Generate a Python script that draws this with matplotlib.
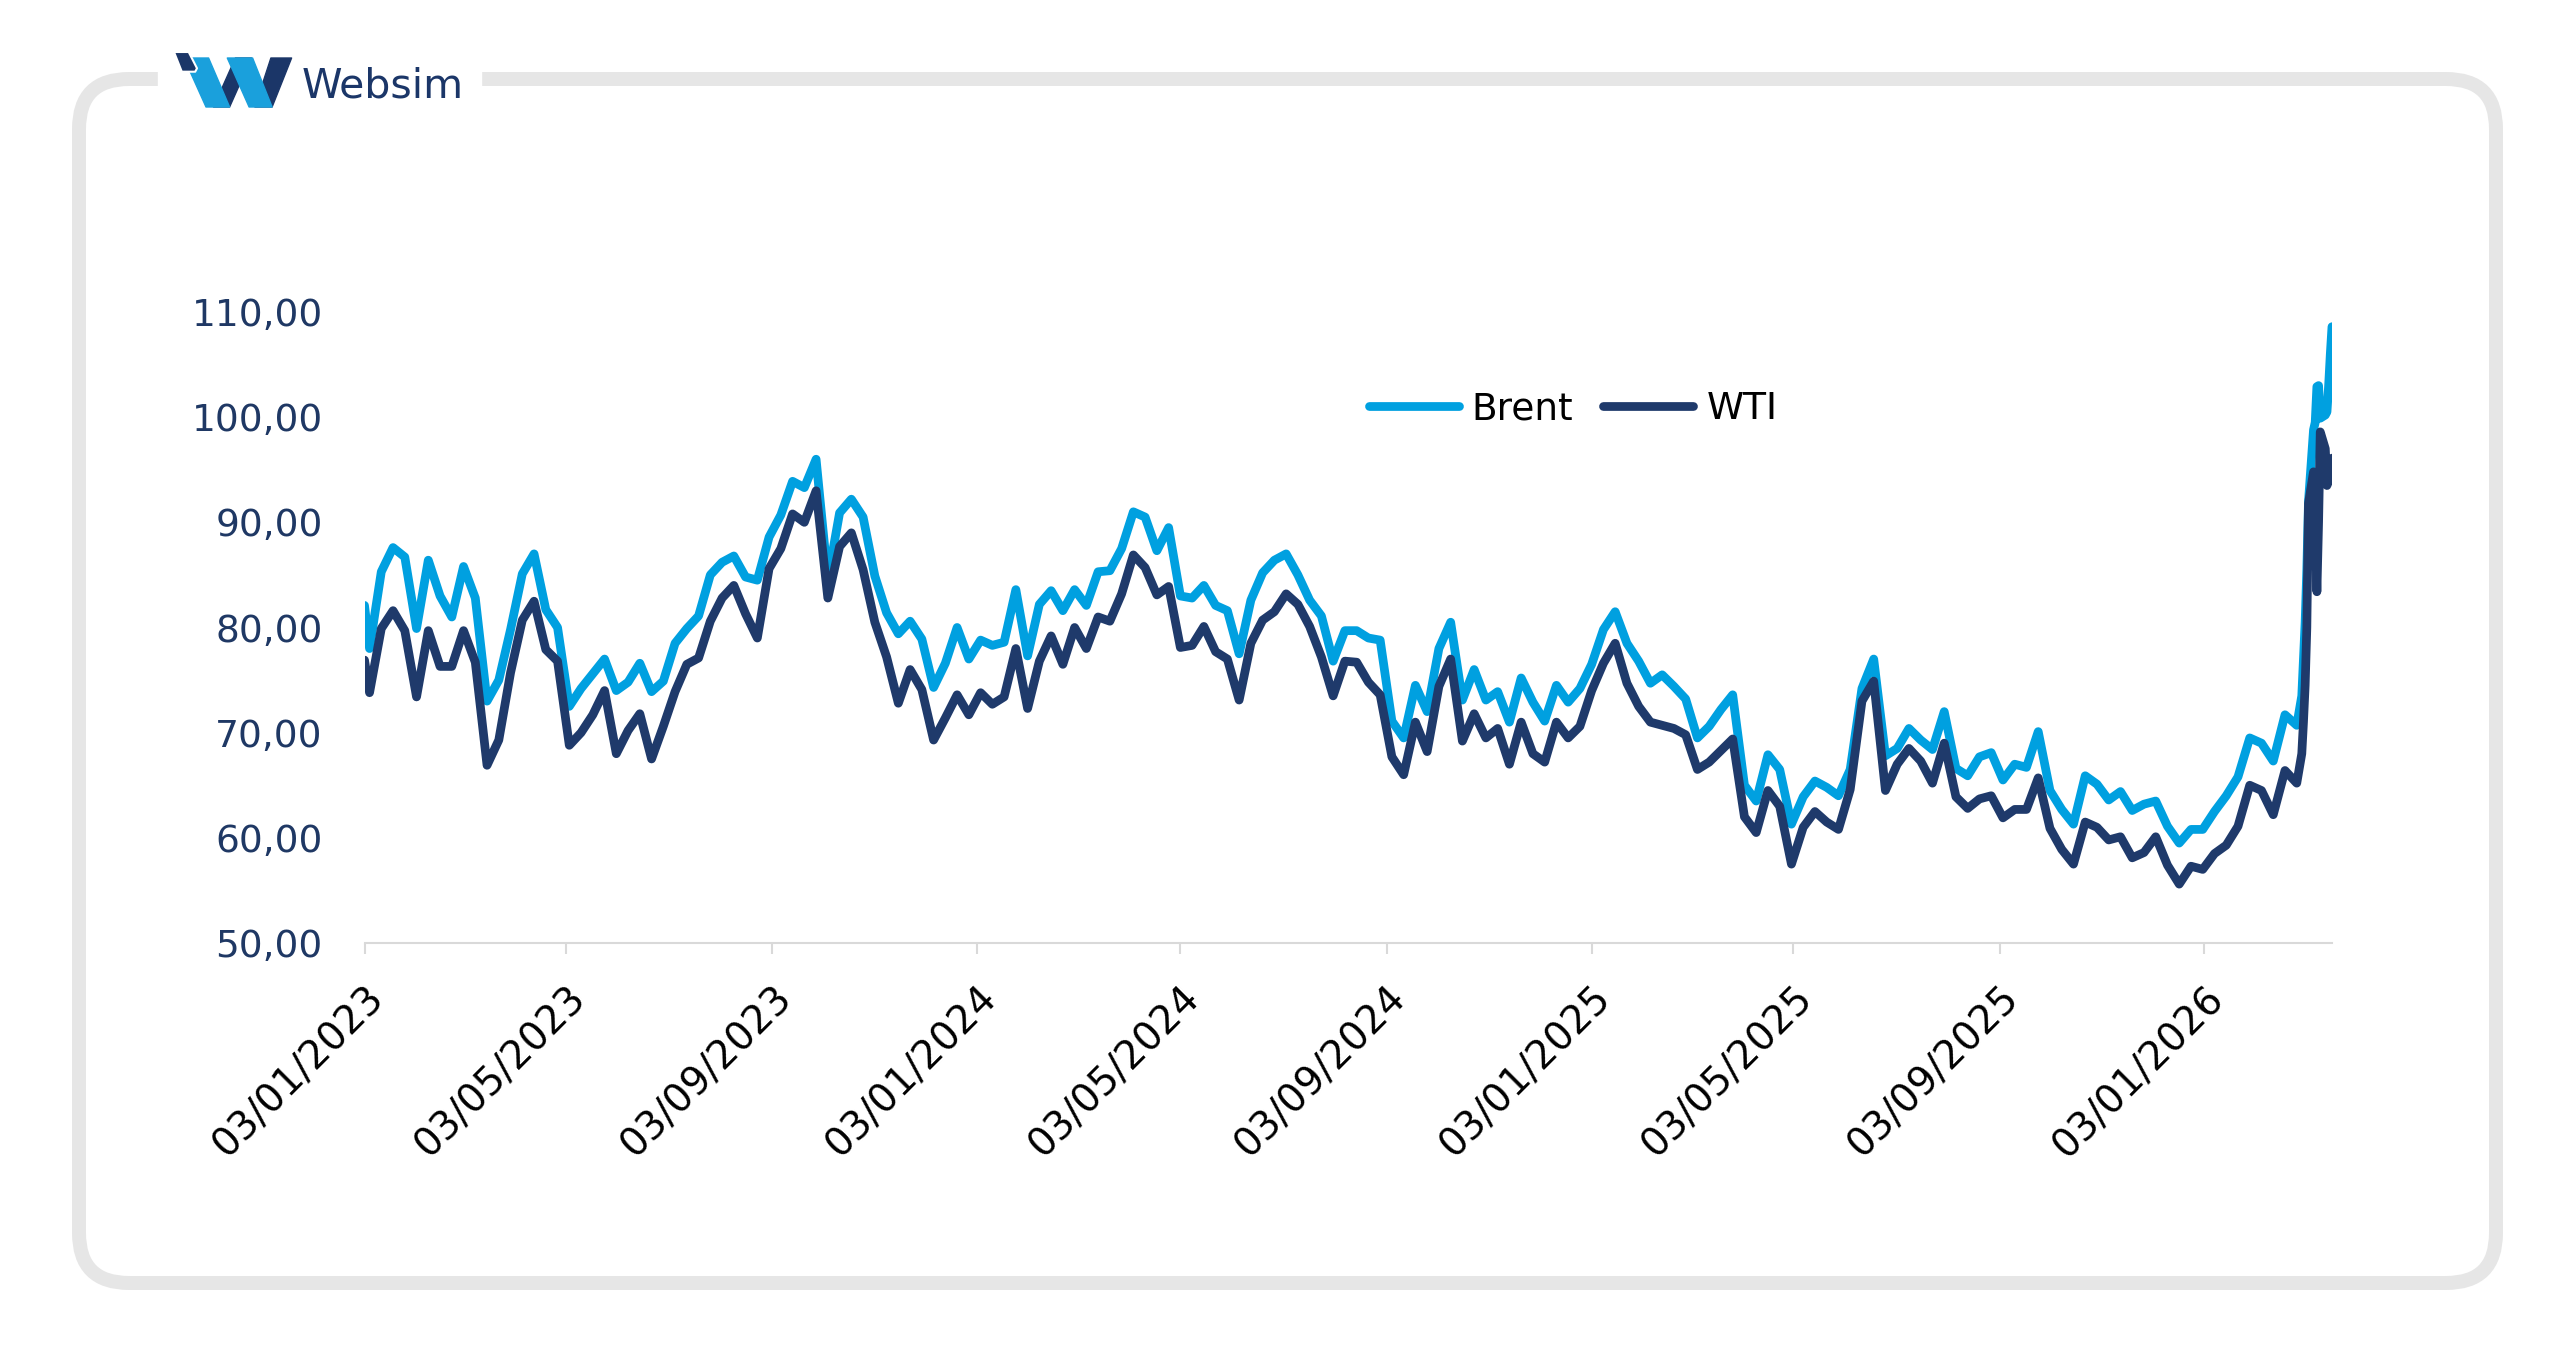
import pandas as pd
import matplotlib
matplotlib.use("Agg")
import matplotlib.pyplot as plt
from matplotlib.patches import FancyBboxPatch, Polygon, Rectangle
from matplotlib.ticker import FuncFormatter

BRENT_COLOR = "#00a0e0"
WTI_COLOR = "#1f3a6b"
LABEL_COLOR = "#1f3864"
FRAME_COLOR = "#e6e6e6"

# first quote of the series (Tuesday 3 Jan 2023)
start_date = "2023-01-03"
brent_start = 82.1
wti_start = 76.9

# weekly closes (Fridays)
brent_2023 = [78.0, 85.3, 87.6, 86.7,
              79.9, 86.4, 83.0, 81.0,
              85.8, 82.8, 73.0, 75.0, 79.8,
              85.1, 87.0, 81.7, 80.0,
              72.5, 74.2, 75.6, 77.0,
              74.0, 74.8, 76.6, 73.9, 74.9,
              78.5, 79.9, 81.1, 85.0,
              86.2, 86.8, 84.8, 84.5,
              88.6, 90.7, 93.9, 93.3, 96.0,
              84.6, 90.9, 92.2, 90.5,
              84.9, 81.4, 79.4, 80.6,
              78.9, 74.3, 76.6, 80.0, 77.0]
wti_2023 = [73.8, 79.9, 81.6, 79.7,
            73.4, 79.7, 76.3, 76.3,
            79.7, 76.7, 66.9, 69.3, 75.7,
            80.7, 82.5, 77.9, 76.8,
            68.8, 70.0, 71.7, 74.0,
            68.0, 70.2, 71.8, 67.5, 70.6,
            73.9, 76.5, 77.1, 80.6,
            82.8, 84.0, 81.3, 79.0,
            85.6, 87.5, 90.8, 90.0, 93.0,
            82.8, 87.7, 89.0, 85.5,
            80.5, 77.2, 72.8, 76.0,
            74.1, 69.3, 71.4, 73.6, 71.7]

brent_2024 = [78.8, 78.3, 78.6, 83.6,
              77.3, 82.2, 83.5, 81.6,
              83.6, 82.1, 85.3, 85.4, 87.5,
              91.0, 90.5, 87.3, 89.5,
              83.0, 82.8, 84.0, 82.1, 81.6,
              77.5, 82.6, 85.2, 86.4,
              87.0, 85.0, 82.6, 81.1,
              76.8, 79.7, 79.7, 79.0, 78.8,
              71.1, 69.5, 74.5, 72.0,
              78.0, 80.5, 73.1, 76.0,
              73.1, 73.9, 71.0, 75.2, 72.9,
              71.1, 74.5, 72.9, 74.2]
wti_2024 = [73.8, 72.7, 73.4, 78.0,
            72.3, 76.8, 79.2, 76.5,
            80.0, 78.0, 81.0, 80.6, 83.2,
            86.9, 85.7, 83.1, 83.9,
            78.1, 78.3, 80.1, 77.7, 77.0,
            73.1, 78.5, 80.7, 81.5,
            83.2, 82.2, 80.1, 77.2,
            73.5, 76.8, 76.7, 74.8, 73.6,
            67.7, 66.0, 71.0, 68.2,
            74.4, 77.0, 69.2, 71.8,
            69.5, 70.4, 67.0, 71.0, 68.0,
            67.2, 71.0, 69.5, 70.6]

brent_2025 = [76.5, 79.8, 81.5, 78.5, 76.8,
              74.7, 75.5, 74.4, 73.2,
              69.5, 70.6, 72.2, 73.6,
              65.0, 63.5, 67.9, 66.5,
              61.3, 63.9, 65.4, 64.8, 64.0,
              66.5, 74.2, 77.0, 67.8,
              68.5, 70.4, 69.3, 68.4,
              72.0, 66.6, 65.9, 67.7, 68.1,
              65.5, 67.0, 66.7, 70.1,
              64.5, 62.7, 61.3, 65.9, 65.1,
              63.6, 64.4, 62.6, 63.2,
              63.5, 61.1, 59.5, 60.8]
wti_2025 = [74.0, 76.6, 78.5, 74.7, 72.5,
            71.0, 70.7, 70.4, 69.8,
            66.5, 67.2, 68.3, 69.4,
            62.0, 60.5, 64.5, 63.0,
            57.5, 61.0, 62.5, 61.5, 60.8,
            64.6, 73.0, 74.9, 64.5,
            67.0, 68.5, 67.3, 65.2,
            69.0, 63.9, 62.8, 63.7, 64.0,
            61.9, 62.7, 62.7, 65.7,
            60.9, 58.9, 57.5, 61.5, 61.0,
            59.8, 60.1, 58.1, 58.6,
            60.1, 57.4, 55.6, 57.3]

brent_2026 = [60.8, 62.5, 64.0, 65.8, 69.5, 69.0, 67.3, 71.7, 70.7]
wti_2026 = [57.0, 58.5, 59.3, 61.1, 65.0, 64.5, 62.2, 66.4, 65.2]

# daily closes, March 2026
brent_mar_2026 = [73.5, 77.0, 80.5, 85.5, 92.0,
                  98.8, 99.5, 102.9, 103.0, 99.9,
                  100.2, 100.5, 103.0, 106.0, 108.6]
wti_mar_2026 = [68.0, 71.0, 74.5, 80.0, 91.8,
                94.8, 90.0, 83.4, 90.0, 98.6,
                97.0, 93.5, 94.0, 95.0, 96.1]

tick_dates = ["2023-01-03", "2023-05-03", "2023-09-03", "2024-01-03",
              "2024-05-03", "2024-09-03", "2025-01-03", "2025-05-03",
              "2025-09-03", "2026-01-03"]
end_date = "2026-03-20"


def weekly(first_friday, values):
    return list(pd.date_range(first_friday, periods=len(values), freq="W-FRI"))


dates = ([pd.Timestamp(start_date)]
         + weekly("2023-01-06", brent_2023)
         + weekly("2024-01-05", brent_2024)
         + weekly("2025-01-03", brent_2025)
         + weekly("2026-01-02", brent_2026)
         + list(pd.bdate_range("2026-03-02", periods=len(brent_mar_2026))))
brent = [brent_start] + brent_2023 + brent_2024 + brent_2025 + brent_2026 + brent_mar_2026
wti = [wti_start] + wti_2023 + wti_2024 + wti_2025 + wti_2026 + wti_mar_2026
assert len(dates) == len(brent) == len(wti)

W, H = 2575, 1362
fig = plt.figure(figsize=(W / 100, H / 100), dpi=100)
fig.patch.set_facecolor("white")

# background layer in pixel coordinates: rounded frame + logo
bg = fig.add_axes([0, 0, 1, 1])
bg.set_xlim(0, W)
bg.set_ylim(H, 0)
bg.axis("off")
bg.add_patch(FancyBboxPatch((79, 79), 2496 - 79, 1283 - 79,
                            boxstyle="round,pad=0,rounding_size=50",
                            fill=False, ec=FRAME_COLOR, lw=14 * 0.72))
bg.add_patch(Rectangle((158, 60), 481 - 158, 40, color="white"))
logo_dark = "#1b3668"
logo_light = "#1aa0dc"
for pts, col in [
    ([(213.5, 107), (229.6, 107), (251.4, 58), (235.4, 58)], logo_dark),
    ([(254.9, 107), (272.1, 107), (291.6, 58), (270.9, 58)], logo_dark),
    ([(184, 58), (208.6, 58), (229.6, 107), (206, 107)], logo_light),
    ([(227.3, 58), (252.6, 58), (272.1, 107), (249.1, 107)], logo_light),
]:
    bg.add_patch(Polygon(pts, closed=True, fc=col, ec=col, lw=1, joinstyle="round"))
bg.add_patch(Polygon([(174, 52), (188.7, 52), (197, 68.3), (195.2, 71.7), (181.8, 71.7)],
                     closed=True, fc=logo_dark, ec="white", lw=1.5, joinstyle="round"))
bg.text(302, 97, "Websim", family="DejaVu Sans", fontsize=29.5, color=logo_dark,
        ha="left", va="baseline")

# main chart
ax = fig.add_axes([364.5 / W, 1 - 943 / H, (2332 - 364.5) / W, (943 - 312) / H])
ax.patch.set_alpha(0)
ax.plot(dates, brent, color=BRENT_COLOR, lw=6.3, label="Brent",
        solid_joinstyle="round", solid_capstyle="round")
ax.plot(dates, wti, color=WTI_COLOR, lw=6.3, label="WTI",
        solid_joinstyle="round", solid_capstyle="round")

ax.set_xlim(pd.Timestamp(start_date), pd.Timestamp(end_date))
ax.set_ylim(50, 110)
ax.set_yticks(range(50, 111, 10))
ax.yaxis.set_major_formatter(FuncFormatter(lambda v, p: f"{v:.2f}".replace(".", ",")))
ticks = [pd.Timestamp(t) for t in tick_dates]
ax.set_xticks(ticks)
ax.set_xticklabels([t.strftime("%d/%m/%Y") for t in ticks])

for side in ["top", "right", "left"]:
    ax.spines[side].set_visible(False)
ax.spines["bottom"].set_color("#d9d9d9")
ax.spines["bottom"].set_linewidth(1.5)
ax.tick_params(axis="y", length=0, pad=30, labelsize=27, labelcolor=LABEL_COLOR)
ax.tick_params(axis="x", length=8, width=1.5, color="#d9d9d9", pad=18,
               labelsize=28, labelcolor="black")
for lab in ax.get_xticklabels():
    lab.set_rotation(45)
    lab.set_ha("right")
    lab.set_va("top")
    lab.set_rotation_mode("anchor")

ax.legend(loc="center", bbox_to_anchor=(1573 / W, 1 - 409 / H),
          bbox_transform=fig.transFigure, ncol=2, frameon=False,
          fontsize=27, handlelength=2.4, handletextpad=0.35, columnspacing=0.8)

fig.savefig("out.png", dpi=100)
